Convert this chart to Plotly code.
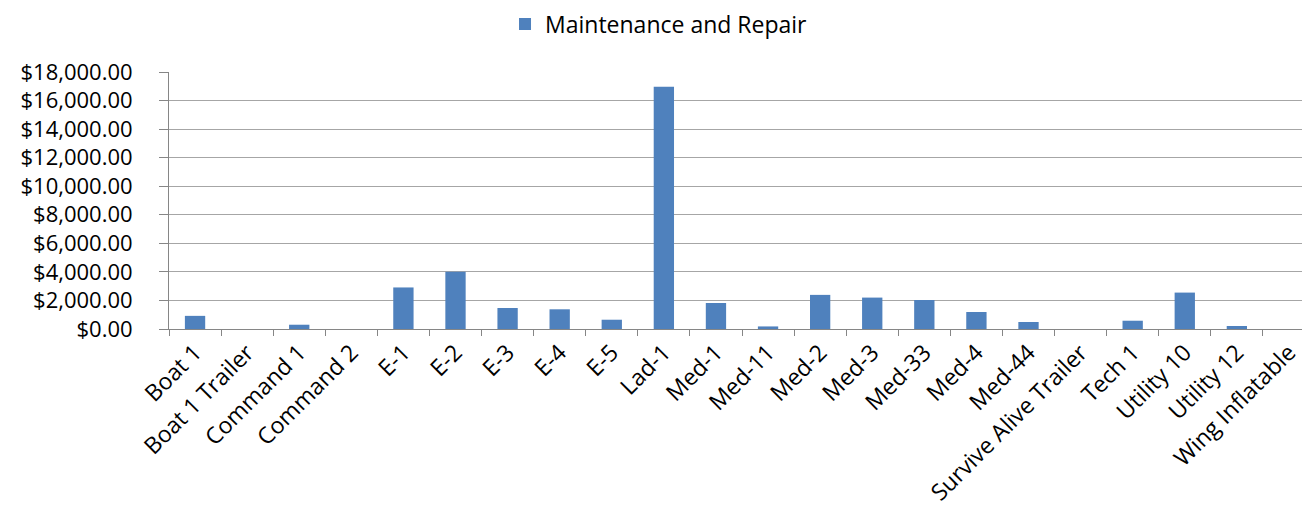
import plotly.graph_objects as go

categories = ["Boat 1", "Boat 1 Trailer", "Command 1", "Command 2", "E-1", "E-2", "E-3", "E-4", "E-5",
              "Lad-1", "Med-1", "Med-11", "Med-2", "Med-3", "Med-33", "Med-4", "Med-44",
              "Survive Alive Trailer", "Tech 1", "Utility 10", "Utility 12", "Wing Inflatable"]
maintenance = [920, 0, 300, 0, 2910, 4010, 1470, 1380, 650,
               16960, 1820, 180, 2390, 2200, 2030, 1190, 490,
               0, 580, 2550, 210, 0]
y_ticks = list(range(0, 18001, 2000))
y_labels = ["${:,.2f}".format(v) for v in y_ticks]

FONT = "Open Sans"

fig = go.Figure()
fig.add_trace(go.Bar(
    x=categories, y=maintenance, name="Maintenance and Repair",
    marker=dict(color="#4F81BD", line=dict(width=0)),
    showlegend=True,
))

fig.update_layout(
    width=1310, height=509,
    margin=dict(l=161, r=3, t=64, b=188, autoexpand=False),
    paper_bgcolor="white", plot_bgcolor="white",
    font=dict(family=FONT, size=22, color="black"),
    bargap=0.61,
    showlegend=True,
    legend=dict(orientation="h", xref="container", yref="container",
                x=0.3794, xanchor="left", y=0.9686, yanchor="middle",
                font=dict(size=23), itemwidth=30),
    xaxis=dict(
        type="category", tickangle=-45, showline=True, linecolor="#868686", linewidth=1,
        ticks="outside", tickson="boundaries", ticklen=6, tickcolor="#868686",
        showgrid=False, tickfont=dict(size=23), automargin=False,
    ),
    yaxis=dict(
        range=[0, 18000], tickvals=y_ticks, ticktext=y_labels,
        showline=True, linecolor="#868686", linewidth=1,
        ticks="outside", ticklen=9, tickcolor="#868686",
        showgrid=True, gridcolor="#A6A6A6", gridwidth=1,
        tickfont=dict(size=22), zeroline=False, automargin=False,
        ticklabelstandoff=22,
    ),
)

fig.write_html("out.html")
